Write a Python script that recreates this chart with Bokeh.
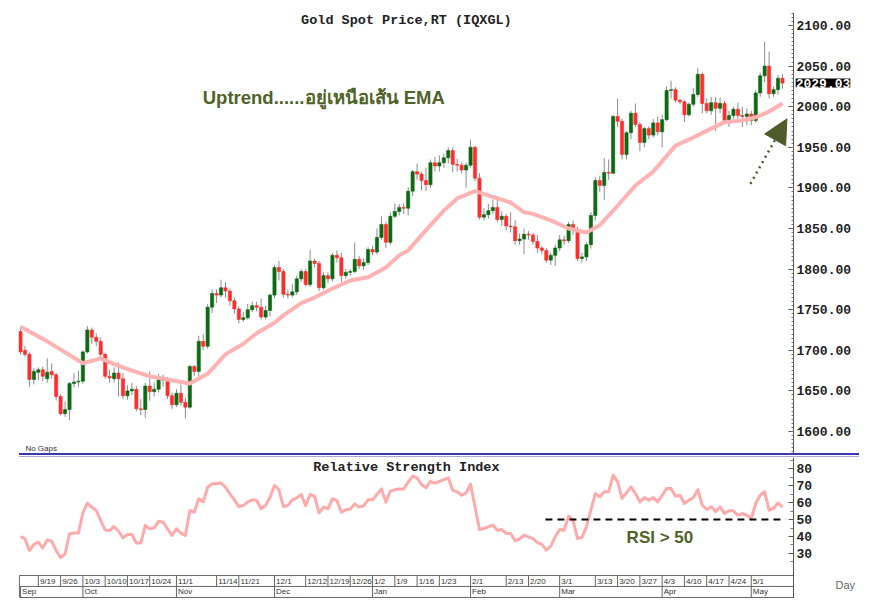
import numpy as np
import pandas as pd
from bokeh.plotting import figure
from bokeh.models import (ColumnDataSource, Label, Arrow, NormalHead, SingleIntervalTicker,
                          FixedTicker, Div, NumeralTickFormatter)
from bokeh.layouts import column
from bokeh.embed import file_html
from bokeh.resources import INLINE
from bokeh.core.properties import value

# ---------------- data ----------------
first_day = "2022-09-13"
last_day = "2023-05-10"

opens = [1723, 1700, 1695, 1664, 1673, 1676, 1665, 1674, 1670, 1643,
         1622, 1627, 1659, 1661, 1662, 1698, 1725, 1716, 1711, 1695,
         1668, 1665, 1672, 1665, 1644, 1650, 1652, 1628, 1627, 1656,
         1649, 1652, 1664, 1663, 1644, 1633, 1647, 1636, 1630, 1680,
         1674, 1711, 1705, 1753, 1770, 1768, 1777, 1773, 1761, 1751,
         1738, 1740, 1750, 1755, 1753, 1741, 1749, 1768, 1802, 1797,
         1769, 1768, 1772, 1788, 1797, 1781, 1810, 1807, 1777, 1792,
         1788, 1817, 1814, 1792, 1796, 1797, 1812, 1804, 1808, 1824,
         1821, 1839, 1855, 1833, 1865, 1871, 1876, 1875, 1896, 1920,
         1917, 1909, 1904, 1931, 1927, 1931, 1937, 1946, 1929, 1928,
         1922, 1928, 1950, 1912, 1864, 1867, 1872, 1876, 1861, 1865,
         1853, 1852, 1835, 1837, 1843, 1842, 1834, 1826, 1823, 1811,
         1817, 1826, 1836, 1835, 1855, 1849, 1813, 1815, 1830, 1866,
         1909, 1903, 1919, 1918, 1988, 1982, 1941, 1968, 1992, 1978,
         1956, 1973, 1965, 1980, 1969, 1984, 2020, 2021, 2008, 2006,
         1990, 2003, 2015, 2040, 2004, 1995, 2005, 1998, 2004, 1983,
         1989, 1997, 1989, 1988, 1991, 1983, 2017, 2038, 2050, 2016,
         2021, 2035]
highs = [1729, 1705, 1698, 1678, 1679, 1680, 1690, 1684, 1672, 1646,
         1637, 1661, 1672, 1675, 1700, 1730, 1728, 1721, 1716, 1697,
         1676, 1679, 1685, 1672, 1657, 1660, 1656, 1640, 1660, 1674,
         1660, 1671, 1670, 1667, 1648, 1652, 1658, 1642, 1682, 1682,
         1718, 1720, 1757, 1775, 1775, 1787, 1784, 1776, 1765, 1754,
         1747, 1757, 1760, 1760, 1764, 1755, 1770, 1805, 1810, 1800,
         1775, 1782, 1792, 1800, 1800, 1824, 1813, 1810, 1796, 1796,
         1820, 1823, 1820, 1800, 1800, 1833, 1816, 1813, 1827, 1829,
         1850, 1865, 1858, 1870, 1881, 1880, 1881, 1901, 1922, 1930,
         1920, 1925, 1935, 1938, 1940, 1942, 1950, 1950, 1936, 1931,
         1931, 1959, 1952, 1918, 1875, 1880, 1886, 1890, 1871, 1868,
         1870, 1860, 1844, 1850, 1847, 1845, 1842, 1828, 1826, 1820,
         1830, 1842, 1841, 1858, 1860, 1852, 1820, 1833, 1870, 1913,
         1915, 1937, 1935, 1990, 2010, 1985, 1970, 1995, 2004, 1981,
         1975, 1976, 1985, 1988, 1990, 2025, 2032, 2024, 2010, 2008,
         2005, 2023, 2048, 2042, 2010, 2012, 2012, 2011, 2007, 1995,
         2000, 2005, 2000, 1998, 1995, 2020, 2042, 2080, 2068, 2025,
         2039, 2040]
lows = [1695, 1692, 1655, 1658, 1663, 1662, 1660, 1665, 1638, 1620,
        1618, 1614, 1654, 1655, 1659, 1696, 1708, 1705, 1690, 1665,
        1660, 1660, 1643, 1640, 1639, 1645, 1625, 1620, 1617, 1638,
        1643, 1648, 1655, 1640, 1628, 1630, 1632, 1616, 1628, 1668,
        1668, 1700, 1702, 1746, 1758, 1765, 1765, 1755, 1745, 1733,
        1735, 1738, 1747, 1748, 1738, 1738, 1742, 1764, 1786, 1765,
        1764, 1765, 1768, 1784, 1779, 1778, 1802, 1773, 1775, 1783,
        1785, 1808, 1784, 1788, 1792, 1795, 1800, 1799, 1805, 1817,
        1818, 1836, 1826, 1830, 1863, 1866, 1868, 1866, 1890, 1910,
        1897, 1896, 1900, 1920, 1920, 1925, 1930, 1919, 1920, 1918,
        1900, 1925, 1908, 1861, 1860, 1862, 1868, 1858, 1853, 1848,
        1845, 1830, 1830, 1818, 1836, 1830, 1820, 1818, 1808, 1805,
        1804, 1822, 1830, 1832, 1842, 1810, 1808, 1810, 1825, 1860,
        1895, 1885, 1910, 1917, 1975, 1935, 1935, 1960, 1975, 1945,
        1950, 1960, 1962, 1965, 1950, 1982, 2010, 2005, 2003, 1981,
        1988, 2000, 2012, 1992, 1992, 1990, 1970, 1992, 1980, 1975,
        1984, 1985, 1975, 1977, 1977, 1980, 2012, 2030, 2010, 2012,
        2015, 2022]
closes = [1698, 1695, 1664, 1674, 1676, 1668, 1673, 1670, 1643, 1622,
          1627, 1659, 1661, 1662, 1698, 1725, 1716, 1711, 1695, 1668,
          1666, 1672, 1665, 1644, 1650, 1652, 1628, 1627, 1656, 1649,
          1652, 1664, 1663, 1644, 1633, 1647, 1636, 1630, 1680, 1674,
          1711, 1705, 1753, 1770, 1768, 1777, 1773, 1761, 1751, 1738,
          1740, 1750, 1755, 1753, 1741, 1749, 1768, 1802, 1797, 1769,
          1768, 1772, 1788, 1797, 1781, 1810, 1807, 1777, 1792, 1788,
          1817, 1814, 1792, 1796, 1797, 1812, 1804, 1808, 1824, 1821,
          1839, 1855, 1833, 1865, 1871, 1876, 1875, 1896, 1920, 1917,
          1909, 1904, 1931, 1927, 1931, 1937, 1946, 1929, 1928, 1922,
          1928, 1950, 1912, 1864, 1867, 1872, 1876, 1861, 1865, 1853,
          1852, 1835, 1837, 1843, 1842, 1834, 1826, 1823, 1811, 1817,
          1826, 1836, 1835, 1855, 1849, 1813, 1815, 1830, 1866, 1909,
          1903, 1919, 1918, 1988, 1982, 1941, 1968, 1992, 1978, 1956,
          1973, 1965, 1980, 1969, 1984, 2020, 2021, 2008, 2006, 1990,
          2003, 2015, 2040, 2004, 1995, 2005, 1998, 2004, 1983, 1989,
          1997, 1989, 1988, 1991, 1983, 2017, 2038, 2050, 2016, 2021,
          2035, 2029.03]

ema_day = [0, 6, 14, 18, 21, 25, 29, 38, 42, 46, 50, 53, 57, 59, 63, 66, 70, 74, 78,
           82, 85, 87, 91, 95, 98, 102, 106, 110, 113, 115, 119, 123, 127, 130, 134,
           138, 142, 147, 151, 155, 158, 162, 165, 168, 171]
ema_val = [1729, 1711, 1684, 1690, 1683, 1675, 1668, 1659, 1671, 1695, 1708, 1721, 1734,
           1743, 1758, 1765, 1776, 1786, 1790, 1802, 1817, 1823, 1848, 1872, 1887, 1896,
           1889, 1882, 1870, 1868, 1860, 1850, 1845, 1854, 1878, 1903, 1920, 1952, 1962,
           1973, 1981, 1983, 1987, 1994, 2004]

rsi = [40.0, 38.6, 31.8, 35.3, 36.7, 33.3, 38.0, 37.3, 31.8, 27.6,
       29.8, 41.6, 42.0, 42.0, 53.9, 59.6, 57.3, 55.3, 49.4, 43.9,
       43.5, 45.9, 43.1, 39.2, 41.2, 41.2, 36.1, 36.1, 46.5, 44.5,
       45.1, 49.0, 48.4, 44.5, 40.6, 44.5, 42.0, 40.6, 55.3, 54.3,
       62.2, 60.4, 69.0, 71.0, 71.0, 71.6, 69.0, 65.1, 61.6, 57.6,
       58.2, 60.4, 61.6, 61.2, 56.3, 58.2, 63.1, 70.0, 67.5, 57.6,
       58.2, 61.6, 62.7, 64.7, 58.2, 64.7, 63.7, 53.9, 57.3, 56.3,
       62.2, 61.2, 54.3, 55.7, 56.1, 59.2, 57.3, 58.0, 61.6, 61.6,
       64.7, 68.0, 60.2, 66.7, 67.5, 68.0, 68.0, 72.0, 75.5, 74.5,
       70.6, 68.6, 72.5, 71.4, 72.5, 73.5, 74.5, 67.3, 66.3, 64.3,
       65.7, 70.8, 57.5, 44.1, 44.7, 45.7, 46.7, 43.7, 44.1, 41.8,
       41.8, 37.5, 38.6, 40.8, 39.8, 38.8, 36.3, 35.5, 32.0, 34.3,
       39.8, 44.1, 43.7, 52.0, 49.6, 38.8, 39.4, 45.7, 55.5, 65.3,
       63.3, 66.3, 66.3, 76.1, 72.2, 62.4, 65.7, 69.2, 65.3, 60.4,
       62.9, 61.4, 62.9, 60.4, 64.3, 68.2, 68.2, 63.7, 64.3, 59.4,
       61.4, 62.9, 67.6, 58.4, 55.9, 57.5, 54.5, 57.5, 53.5, 55.1,
       55.1, 52.5, 53.5, 52.5, 50.6, 59.4, 64.3, 66.3, 55.5, 56.5,
       59.8, 57.5]

day_labels = ["9/19", "9/26", "10/3", "10/10", "10/17", "10/24", "11/1", "11/14", "11/21",
              "12/1", "12/12", "12/19", "12/26", "1/2", "1/9", "1/16", "1/23", "2/1",
              "2/13", "2/20", "3/1", "3/13", "3/20", "3/27", "4/3", "4/10", "4/17",
              "4/24", "5/1"]
month_labels = ["Sep", "Oct", "Nov", "Dec", "Jan", "Feb", "Mar", "Apr", "May"]
rsi_ticks = [30, 40, 50, 60, 70, 80]
rsi_level = 50
last_price = closes[-1]

# ---------------- positions of the dates ----------------
dates = pd.bdate_range(first_day, last_day)
def day_index(lbl):
    m, d = (int(t) for t in lbl.split("/"))
    yr = 2022 if m >= 9 else 2023
    return int(dates.get_loc(pd.Timestamp(yr, m, d)))
day_pos = [day_index(l) for l in day_labels]
month_pos = []
for name in month_labels:
    mnum = pd.to_datetime(name, format="%b").month
    month_pos.append(int(np.argmax(dates.month == mnum)))

# ---------------- layout constants ----------------
OLIVE = "#4f6228"
W = 862
XR = (-0.45, 188.96)     # frame spans the full width; axis sits at AX_X
AX_X = 173.47
GRAY = "#666666"

def style_axis(a):
    a.fixed_location = AX_X
    a.major_label_text_font = "Liberation Mono"
    a.major_label_text_font_size = "13px"
    a.major_label_text_font_style = "bold"
    a.major_label_text_color = "#222222"
    a.axis_line_color = "#555555"
    a.major_tick_in = 5
    a.major_tick_out = 0
    a.minor_tick_in = 2
    a.minor_tick_out = 0
    a.major_tick_line_color = "#555555"
    a.minor_tick_line_color = "#777777"
    a.major_label_standoff = 3

# ---------------- price panel ----------------
p1 = figure(width=W, height=453, x_range=XR, y_range=(1572.9, 2116.0),
            y_axis_location="right", x_axis_location=None,
            output_backend="svg", toolbar_location=None,
            min_border_left=18, min_border_right=0, min_border_top=12, min_border_bottom=0)
p1.grid.visible = False
p1.outline_line_color = None
ax = p1.yaxis[0]
ax.ticker = SingleIntervalTicker(interval=50, num_minor_ticks=10)
ax.formatter = NumeralTickFormatter(format="0.00")
style_axis(ax)

idx = np.arange(len(closes))
o = np.array(opens, dtype=float)
c = np.array(closes, dtype=float)
up = c >= o
src = ColumnDataSource(dict(x=idx, top=np.maximum(o, c), bottom=np.minimum(o, c),
                            hi=highs, lo=lows,
                            color=np.where(up, "#0b6a12", "#ff2d2d")))
p1.segment("x", "hi", "x", "lo", source=src, line_color="#8c8c8c", line_width=1)
p1.vbar(x="x", top="top", bottom="bottom", width=0.72, source=src,
        fill_color="color", line_color="color", line_width=0.6)
p1.line(ema_day, ema_val, line_color="#ffb2b2", line_width=4, line_join="round")

p1.add_layout(Label(x=86.6, y=2106, text="Gold Spot Price,RT (IQXGL)",
                    text_align="center", text_baseline="middle",
                    text_font="Liberation Mono", text_font_size="13.5px",
                    text_font_style="bold", text_color="#222222"))
p1.add_layout(Label(x=40.9, y=2011, text="Uptrend......อยู่เหนือเส้น EMA",
                    text_align="left", text_baseline="middle",
                    text_font="Liberation Sans", text_font_size="18.5px",
                    text_font_style="bold", text_color=OLIVE))
p1.add_layout(Label(x=1.1, y=1579, text="No Gaps", text_align="left",
                    text_baseline="middle", text_font="Liberation Sans",
                    text_font_size="8px", text_color="#333333"))
p1.add_layout(Label(x=AX_X + 0.5, y=last_price, text=f"{last_price:.2f}",
                    text_align="left", text_baseline="middle",
                    text_font="Liberation Mono", text_font_size="13px",
                    text_font_style="bold", text_color="white",
                    background_fill_color="black"))
p1.add_layout(Arrow(x_start=163.8, y_start=1905, x_end=172.0, y_end=1985,
                    line_color="#4f5b2a", line_width=2.5, line_dash="dotted",
                    end=NormalHead(size=24, fill_color="#4f5b2a", line_color="#4f5b2a")))

sep = Div(text="", width=840, height=4, margin=(0, 0, 0, 19),
          styles={"border-top": "2px solid #3838b0", "border-bottom": "1px solid #a8a8d8",
                  "box-sizing": "border-box"})

# ---------------- RSI panel ----------------
p2 = figure(width=W, height=141, x_range=p1.x_range, y_range=(3.5, 86.5),
            y_axis_location="right", x_axis_location=None,
            output_backend="svg", toolbar_location=None,
            min_border_left=18, min_border_right=0, min_border_top=0, min_border_bottom=0)
p2.grid.visible = False
p2.outline_line_color = None
bx = p2.yaxis[0]
bx.ticker = FixedTicker(ticks=rsi_ticks, minor_ticks=[25, 35, 45, 55, 65, 75, 85])
style_axis(bx)
bx.minor_tick_in = 3

p2.line(idx, rsi, line_color="#ffaaaa", line_width=3, line_join="round")
p2.segment(x0=[117.8], y0=[rsi_level], x1=[171.7], y1=[rsi_level],
           line_color="black", line_width=2, line_dash="7 5")
p2.add_layout(Label(x=86.6, y=80.6, text="Relative Strength Index",
                    text_align="center", text_baseline="middle",
                    text_font="Liberation Mono", text_font_size="13.5px",
                    text_font_style="bold", text_color="#222222"))
p2.add_layout(Label(x=143.5, y=39.4, text=f"RSI > {rsi_level}",
                    text_align="center", text_baseline="middle",
                    text_font="Liberation Sans", text_font_size="17px",
                    text_font_style="bold", text_color=OLIVE))

# date box under the RSI
rows = [17.05, 10.6, 4.1]
p2.segment(x0=[-0.25] * 3, y0=rows, x1=[AX_X] * 3, y1=rows, line_color=GRAY, line_width=1)
p2.segment(x0=day_pos, y0=[10.6] * len(day_pos), x1=day_pos, y1=[17.05] * len(day_pos),
           line_color=GRAY, line_width=1)
p2.segment(x0=month_pos, y0=[4.1] * len(month_pos), x1=month_pos, y1=[10.6] * len(month_pos),
           line_color=GRAY, line_width=1)
p2.segment(x0=[-0.25], y0=[4.1], x1=[-0.25], y1=[17.05], line_color=GRAY, line_width=1)
p2.text(x=[d + 0.35 for d in day_pos], y=[13.8] * len(day_pos), text=day_labels,
        text_align="left", text_baseline="middle", text_font=value("Liberation Sans"),
        text_font_size="8px", text_color="#333333")
p2.text(x=[m + 0.35 for m in month_pos], y=[7.4] * len(month_pos), text=month_labels,
        text_align="left", text_baseline="middle", text_font=value("Liberation Sans"),
        text_font_size="8px", text_color="#333333")
p2.add_layout(Label(x=182.9, y=11.2, text="Day", text_align="left", text_baseline="middle",
                    text_font="Liberation Sans", text_font_size="11px", text_color="#666666"))

layout = column(p1, sep, p2, spacing=0)
open("out.html", "w").write(file_html(layout, INLINE))
